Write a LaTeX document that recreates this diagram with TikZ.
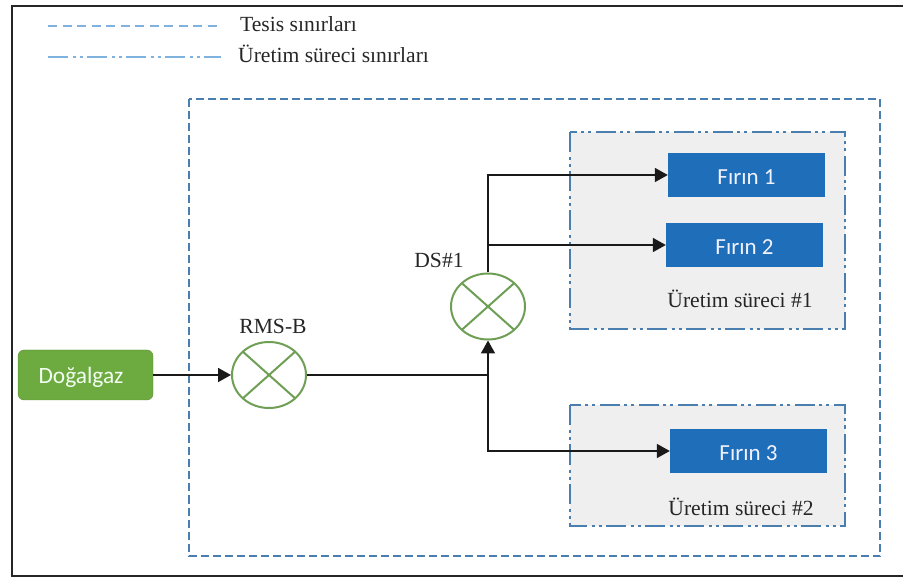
\documentclass[tikz,border=0pt]{standalone}
\usepackage{fontspec}
\setmainfont{Liberation Serif}
\newfontfamily\boxfont{Carlito}
\usetikzlibrary{arrows.meta,shapes.geometric}

\definecolor{sitecolor}{HTML}{4A7EAE}
\definecolor{legendcolor}{HTML}{7FB2DE}
\definecolor{procfill}{HTML}{EFEFEF}
\definecolor{furnacefill}{HTML}{1F6EB9}
\definecolor{gasfill}{HTML}{6DAA3F}
\definecolor{meterline}{HTML}{6E9F55}

\tikzset{
	caption/.style={inner sep=0pt, font=\fontsize{21.6}{25}\selectfont, text=black!85},
	sitedash/.style={dash pattern=on 8pt off 4pt},
	legenddash/.style={dash pattern=on 9pt off 5.5pt},
	procdash/.style={dash pattern=on 20pt off 5pt on 3pt off 4pt on 3pt off 4pt},
	furnace/.style={fill=furnacefill, text=white!95!blue, inner sep=0pt, minimum width=157pt, minimum height=44pt, text height=19pt, text depth=0pt, font=\boxfont\fontsize{23}{26}\selectfont},
	meter/.style={ellipse, draw=meterline, line width=2pt, fill=white, inner sep=0pt, minimum width=74pt, minimum height=66pt,
		path picture={\draw [meterline, line width=2pt] (path picture bounding box.north west) -- (path picture bounding box.south east) (path picture bounding box.north east) -- (path picture bounding box.south west);}},
	flow/.style={-{Triangle[length=13pt,width=14pt]}, line width=1.8pt, black!90},
	pipe/.style={line width=1.8pt, black!90},
}

\begin{document}
\begin{tikzpicture}[yscale=-1, x=1pt, y=1pt]
	\useasboundingbox (0, 0) rectangle (903, 577);
	\draw [line width=2pt, black!85] (903, 6) -- (12, 6) -- (12, 575.5) -- (903, 575.5);

	\coordinate (siteA) at (48, 26.5);
	\coordinate (siteB) at (217, 26.5);
	\coordinate (procA) at (48, 57);
	\coordinate (procB) at (221, 57);
	\draw [legendcolor, line width=2pt, legenddash] (siteA) -- (siteB);
	\draw [legendcolor, line width=2pt, procdash] (procA) -- (procB);
	\node [caption, anchor=base west] (legendsite) at (240, 32) {Tesis sınırları};
	\node [caption, anchor=base west] (legendproc) at (238, 63) {Üretim süreci sınırları};

	\draw [sitecolor, line width=2pt, sitedash] (189, 99.5) rectangle (880, 556);
	\foreach \y/\h in {132.5/329, 405.5/526} {
		\draw [sitecolor, line width=2pt, procdash, fill=procfill] (570, \y) rectangle (845, \h);
	}

	\node [fill=gasfill, draw=gasfill!85!black, rounded corners=6pt, minimum width=135pt, minimum height=50pt, inner sep=0pt, text height=17pt, text depth=0pt, text=white!95!green, font=\boxfont\fontsize{23.4}{26}\selectfont] (gas) at (85.5, 375) {Doğalgaz\rule{9pt}{0pt}};
	\node [meter] (rms) at (269, 375) {};
	\node [meter] (ds) at (488, 306.5) {};
	\node [caption, anchor=base] (rmslabel) at (273, 334) {RMS-B};
	\node [caption, anchor=base] (dslabel) at (439, 268) {DS\#1};
	\node [furnace] (firin1) at (746.5, 175) {Fırın 1};
	\node [furnace] (firin2) at (744.5, 245) {Fırın 2};
	\node [furnace] (firin3) at (748.5, 451) {Fırın 3};
	\node [caption, anchor=base] (proc1) at (740, 308) {Üretim süreci \#1};
	\node [caption, anchor=base] (proc2) at (741, 515) {Üretim süreci \#2};

	\coordinate (merge) at (488, 375);
	\coordinate (branch) at (488, 245);
	\draw [flow] (gas) to (rms);
	\draw [pipe] (rms) to (merge);
	\draw [flow] (merge) to (ds);
	\draw [flow] (merge) |- (firin3);
	\draw [flow] (ds) |- (firin1);
	\draw [flow] (branch) to (firin2);
\end{tikzpicture}
\end{document}
